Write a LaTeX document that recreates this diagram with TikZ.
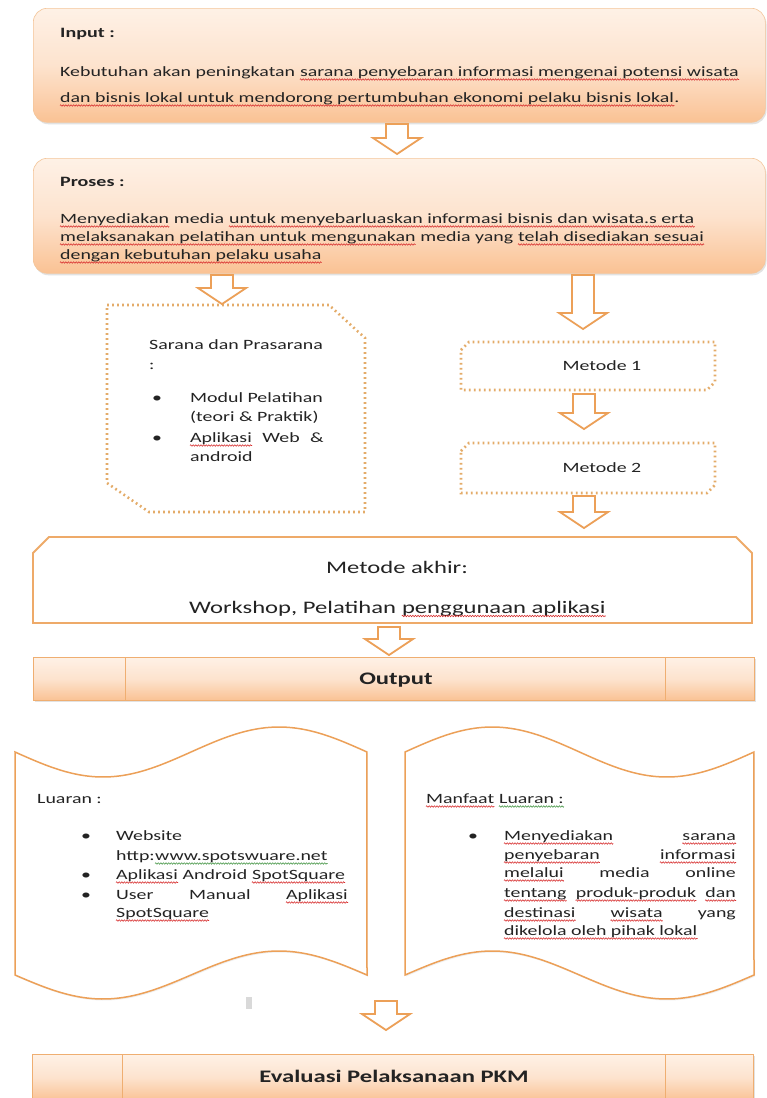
\documentclass[tikz,border=0pt]{standalone}
\usepackage{fontspec}
\setmainfont{Carlito}[FakeStretch=1.4]
\usetikzlibrary{shadows,calc,decorations.pathmorphing}
\definecolor{orng}{RGB}{236,160,88}
\definecolor{dotor}{RGB}{228,172,105}
\definecolor{pkTop}{RGB}{254,241,230}
\definecolor{pkMid}{RGB}{253,227,206}
\definecolor{pkBot}{RGB}{250,194,148}
\definecolor{txt}{RGB}{35,35,35}
\definecolor{sqred}{RGB}{215,45,45}
\definecolor{sqgrn}{RGB}{70,150,70}
\newcommand\harrow[2]{\draw[blockarr] let \p1=(#1), \p2=(#2) in
  (\x1-11pt,\y1) -- (\x1+11pt,\y1) -- (\x1+11pt,\y2+16pt) -- (\x1+24pt,\y2+16pt)
  -- (\x1,\y2) -- (\x1-24pt,\y2+16pt) -- (\x1-11pt,\y2+16pt) -- cycle;}
\newcommand\sqn[2][sqred]{\draw[squig,draw=#1] ([yshift=-3pt]#2.base west) -- ([yshift=-3pt]#2.base east);}
\tikzset{
  shd/.style={drop shadow={shadow xshift=1.2pt,shadow yshift=-2pt,opacity=0.25,fill=black!45}},
  boxpeach/.style={draw=orng!60,line width=0.6pt,rounded corners=14pt,
    top color=pkTop,bottom color=pkBot,middle color=pkMid,shd},
  barpeach/.style={draw=orng!85,line width=0.8pt,top color=pkTop,bottom color=pkBot,
    middle color=pkMid,shd},
  dotbox/.style={draw=dotor,line width=2.6pt,dash pattern=on 1.8pt off 3.2pt,fill=white},
  blockarr/.style={draw=orng,line width=1.8pt,fill=white,line join=miter},
  solidbox/.style={draw=orng!90,line width=1.8pt,fill=white},
  wavebox/.style={draw=orng,line width=1.5pt,fill=white,
    drop shadow={shadow xshift=1pt,shadow yshift=-1.5pt,opacity=0.15,fill=black!40}},
  squig/.style={line width=0.55pt,decorate,decoration={zigzag,amplitude=0.8pt,segment length=2.6pt}},
  body/.style={font=\fontsize{14.2}{16}\selectfont,text=txt,inner sep=0pt,anchor=base west},
  lbl/.style={font=\fontsize{14.3}{16}\selectfont\bfseries,text=txt,inner sep=0pt},
  big/.style={font=\fontsize{17.6}{20}\selectfont,text=txt,inner sep=0pt,anchor=base west},
  bigb/.style={font=\fontsize{17.6}{20}\selectfont\bfseries,text=txt,inner sep=0pt},
  sp/.style={xshift=4.5pt},
  spb/.style={xshift=5.6pt},
}
\begin{document}
\begin{tikzpicture}[x=1pt,y=-1pt]
\useasboundingbox (0,0) rectangle (767,1098);
\fill[white] (0,0) rectangle (767,1098);

% ---------- Input ----------
\node[boxpeach,minimum width=732pt,minimum height=114pt,anchor=north west] (inp) at (33,8) {};
\node[lbl,anchor=base west] (inpT) at (60,37.5) {Input :};
\node[body] (i1a) at (60,76.5) {Kebutuhan akan peningkatan};
\node[body] (i1b) at ([sp]i1a.base east) {sarana penyebaran informasi mengenai potensi wisata};
\node[body] (i2a) at (60,102.5) {dan bisnis lokal untuk mendorong pertumbuhan ekonomi pelaku bisnis lokal};
\node[body] (i2b) at (i2a.base east) {.};
\sqn{i1b} \sqn{i2a}

% ---------- Proses ----------
\node[boxpeach,minimum width=732pt,minimum height=115pt,anchor=north west] (pro) at (33,158) {};
\node[lbl,anchor=base west] (proT) at (60,186.5) {Proses :};
\node[body] (p1a) at (60,223.5) {Menyediakan};
\node[body] (p1b) at ([sp]p1a.base east) {media};
\node[body] (p1c) at ([sp]p1b.base east) {untuk menyebarluaskan informasi bisnis dan wisata.s erta};
\node[body] (p2a) at (60,241.5) {melaksanakan pelatihan untuk mengunakan};
\node[body] (p2b) at ([sp]p2a.base east) {media yang};
\node[body] (p2c) at ([sp]p2b.base east) {telah disediakan sesuai};
\node[body] (p3a) at (60,259.5) {dengan kebutuhan pelaku usaha};
\sqn{p1a} \sqn{p1c} \sqn{p2a} \sqn{p2c} \sqn{p3a}

\coordinate (a1s) at (397,124); \coordinate (a1e) at (397,154);
\harrow{a1s}{a1e}

% ---------- Sarana ----------
\draw[dotbox] (107,305) -- (329,305) -- (365,338) -- (365,512) -- (149,512) -- (107,483) -- cycle;
\node[body] (sar1) at (149,349.5) {Sarana dan Prasarana};
\node[body] (sar2) at (149,369) {:};
\node[body] (sb1) at (152,402.5) {\textbullet};
\node[body] (sar3) at (190,402.5) {Modul Pelatihan};
\node[body] (sar4) at (190,421.5) {(teori \& Praktik)};
\node[body] (sb2) at (152,442.5) {\textbullet};
\node[body] (sar5) at (190,442.5) {Aplikasi};
\node[body,anchor=base east] (sar7) at (324,442.5) {\&};
\node[body,anchor=base] (sar6) at ($(sar5.base east)!0.5!(sar7.base west)$) {Web};
\node[body] (sar8) at (190,461.5) {android};
\sqn{sar5}

\coordinate (a2s) at (222,275); \coordinate (a2e) at (222,304);
\harrow{a2s}{a2e}

% ---------- Metode 1 / 2 ----------
\draw[dotbox] (461,350) -- (469,342) -- (715,342) -- (715,382) -- (707,390) -- (461,390) -- cycle;
\node[body,anchor=center] (m1) at (602,366) {Metode 1};
\draw[dotbox] (461,451) -- (469,443) -- (715,443) -- (715,485) -- (707,493) -- (461,493) -- cycle;
\node[body,anchor=center] (m2) at (602,468) {Metode 2};

\coordinate (a3s) at (583,275); \coordinate (a3e) at (583,329);
\harrow{a3s}{a3e}
\coordinate (a4s) at (584,394); \coordinate (a4e) at (584,429);
\harrow{a4s}{a4e}
\coordinate (a5s) at (584,496); \coordinate (a5e) at (584,528);
\harrow{a5s}{a5e}

% ---------- Metode akhir ----------
\draw[solidbox] (33,553) -- (49,537) -- (736,537) -- (752,553) -- (752,623) -- (33,623) -- cycle;
\node[big,anchor=base] (ma1) at (397,573) {Metode akhir:};
\node[big] (ma2a) at (189,613) {Workshop, Pelatihan};
\node[big] (ma2b) at ([spb]ma2a.base east) {penggunaan aplikasi};
\sqn{ma2b}

\coordinate (a6s) at (389,627); \coordinate (a6e) at (389,655);
\harrow{a6s}{a6e}

% ---------- Output ----------
\node[barpeach,minimum width=721pt,minimum height=43pt,anchor=north west] (out) at (33,657) {};
\draw[orng!85,line width=0.8pt] (125,657) -- (125,700) (665,657) -- (665,700);
\node[bigb,anchor=base] (outT) at (396,684.5) {Output};

% ---------- Luaran (wave shapes) ----------
\draw[wavebox] plot[domain=0:1,samples=50,smooth] ({15+352*\x},{752+25*sin(360*\x)})
  -- plot[domain=1:0,samples=50,smooth] ({15+352*\x},{975+24*sin(360*\x)}) -- cycle;
\draw[wavebox] plot[domain=0:1,samples=50,smooth] ({405+349*\x},{752-25*sin(360*\x)})
  -- plot[domain=1:0,samples=50,smooth] ({405+349*\x},{975-24*sin(360*\x)}) -- cycle;

\node[body] (lu0) at (37,803.5) {Luaran :};
\node[body] (lb1) at (81,840.5) {\textbullet};
\node[body] (lu1) at (116,840.5) {Website};
\node[body] (lu2a) at (116,860.5) {http:};
\node[body] (lu2b) at (lu2a.base east) {www.spotswuare.net};
\node[body] (lb2) at (81,879.5) {\textbullet};
\node[body] (lu3a) at (116,879.5) {Aplikasi};
\node[body] (lu3b) at ([sp]lu3a.base east) {Android};
\node[body] (lu3c) at ([sp]lu3b.base east) {SpotSquare};
\node[body] (lb3) at (81,899.5) {\textbullet};
\node[body] (lu4) at (116,899.5) {User};
\node[body,anchor=base east] (lu6) at (348,899.5) {Aplikasi};
\node[body,anchor=base] (lu5) at ($(lu4.base east)!0.5!(lu6.base west)$) {Manual};
\node[body] (lu7) at (116,917.5) {SpotSquare};
\sqn[sqgrn]{lu2b} \sqn{lu3a} \sqn{lu3c} \sqn{lu6} \sqn{lu7}

\node[body] (mf0a) at (426,803.5) {Manfaat};
\node[body] (mf0b) at ([sp]mf0a.base east) {Luaran :};
\node[body] (mb1) at (468,840.5) {\textbullet};
\node[body] (mf1a) at (504,840.5) {Menyediakan};
\node[body,anchor=base east] (mf1b) at (736,840.5) {sarana};
\node[body] (mf2a) at (504,859.5) {penyebaran};
\node[body,anchor=base east] (mf2b) at (736,859.5) {informasi};
\node[body] (mf3a) at (504,877.5) {melalui};
\node[body,anchor=base east] (mf3c) at (736,877.5) {online};
\node[body,anchor=base] (mf3b) at ($(mf3a.base east)!0.5!(mf3c.base west)$) {media};
\node[body] (mf4a) at (504,897.5) {tentang};
\node[body,anchor=base east] (mf4c) at (736,897.5) {dan};
\node[body,anchor=base] (mf4b) at ($(mf4a.base east)!0.5!(mf4c.base west)$) {produk-produk};
\node[body] (mf5a) at (504,917.5) {destinasi};
\node[body,anchor=base east] (mf5c) at (736,917.5) {yang};
\node[body,anchor=base] (mf5b) at ($(mf5a.base east)!0.5!(mf5c.base west)$) {wisata};
\node[body] (mf6) at (504,935.5) {dikelola oleh pihak lokal};
\sqn{mf0a} \sqn[sqgrn]{mf0b} \sqn{mf1a} \sqn{mf1b} \sqn{mf2a} \sqn{mf2b} \sqn{mf3a}
\sqn{mf4a} \sqn{mf4b} \sqn{mf4c} \sqn{mf5a} \sqn{mf5b} \sqn{mf6}

\fill[black!15] (246,997) rectangle (252,1009);

\coordinate (a7s) at (386,1001); \coordinate (a7e) at (386,1030);
\harrow{a7s}{a7e}

% ---------- Evaluasi ----------
\node[barpeach,minimum width=721pt,minimum height=46pt,anchor=north west] (eva) at (32,1054) {};
\draw[orng!85,line width=0.8pt] (122,1054) -- (122,1100) (665,1054) -- (665,1100);
\node[bigb,anchor=base] (evaT) at (394,1082.5) {Evaluasi Pelaksanaan PKM};
\end{tikzpicture}
\end{document}
